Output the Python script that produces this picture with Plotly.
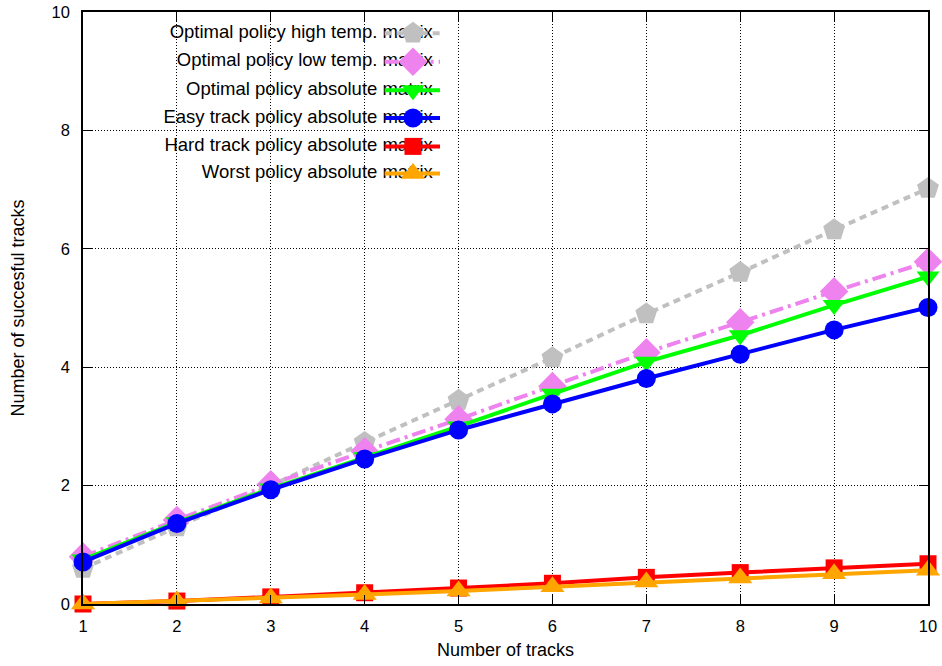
import plotly.graph_objects as go

# Number of tracks on the x axis
tracks = [1, 2, 3, 4, 5, 6, 7, 8, 9, 10]

# Mean number of successful tracks for each policy / matrix
optimal_high_temp = [0.60, 1.30, 2.00, 2.73, 3.44, 4.16, 4.90, 5.60, 6.32, 7.02]
optimal_low_temp = [0.80, 1.42, 2.02, 2.58, 3.12, 3.68, 4.25, 4.76, 5.28, 5.78]
optimal_absolute = [0.75, 1.38, 1.95, 2.48, 3.00, 3.55, 4.09, 4.54, 5.05, 5.53]
easy_track_absolute = [0.71, 1.36, 1.93, 2.45, 2.94, 3.38, 3.81, 4.22, 4.63, 5.01]
hard_track_absolute = [0.00, 0.05, 0.12, 0.19, 0.27, 0.35, 0.45, 0.53, 0.61, 0.68]
worst_absolute = [0.00, 0.05, 0.10, 0.16, 0.22, 0.29, 0.37, 0.44, 0.51, 0.57]

series_names = [
    "Optimal policy high temp. matrix",
    "Optimal policy low temp. matrix",
    "Optimal policy absolute matrix",
    "Easy track policy absolute matrix",
    "Hard track policy absolute matrix",
    "Worst policy absolute matrix",
]
series_values = [
    optimal_high_temp,
    optimal_low_temp,
    optimal_absolute,
    easy_track_absolute,
    hard_track_absolute,
    worst_absolute,
]

# Styles: colour, dash, marker symbol, marker size
styles = [
    ("#c0c0c0", "7px,5px", "pentagon", 23),
    ("#ee82ee", "14px,5px,3px,5px", "diamond", 22),
    ("#00ff00", "solid", "triangle-down", 20),
    ("#0000ff", "solid", "circle", 19),
    ("#ff0000", "solid", "square", 17),
    ("#ffa500", "solid", "triangle-up", 21),
]

FONT = "Liberation Sans, Arial, sans-serif"

fig = go.Figure()

for name, vals, (color, dash, symbol, size) in zip(series_names, series_values, styles):
    fig.add_trace(go.Scatter(
        x=tracks, y=vals, name=name, mode="lines+markers",
        line=dict(color=color, width=4, dash=dash),
        marker=dict(symbol=symbol, size=size, color=color, line=dict(width=0)),
        showlegend=False, cliponaxis=False,
    ))

# Key drawn on an overlay axis spanning the plot area in [0, 1] units
key_rows = [0.964, 0.916, 0.868, 0.821, 0.773, 0.727]
key_text_x = 0.414
key_line = [0.357, 0.4225]
key_mark = 0.3905

fig.add_trace(go.Scatter(
    x=[key_text_x] * len(series_names), y=key_rows, text=series_names,
    mode="text", textposition="middle left",
    textfont=dict(family=FONT, size=18.5, color="black"),
    xaxis="x2", yaxis="y2", showlegend=False, hoverinfo="skip", cliponaxis=False,
))
for row, (color, dash, symbol, size) in zip(key_rows, styles):
    fig.add_trace(go.Scatter(
        x=key_line, y=[row, row], mode="lines",
        line=dict(color=color, width=4, dash=dash),
        xaxis="x2", yaxis="y2", showlegend=False, hoverinfo="skip", cliponaxis=False,
    ))
    fig.add_trace(go.Scatter(
        x=[key_mark], y=[row], mode="markers",
        marker=dict(symbol=symbol, size=size, color=color, line=dict(width=0)),
        xaxis="x2", yaxis="y2", showlegend=False, hoverinfo="skip", cliponaxis=False,
    ))

axis_common = dict(
    automargin=False,
    showline=True, linecolor="black", linewidth=1.5, mirror="ticks",
    ticks="inside", ticklen=9, tickcolor="black", tickwidth=1,
    showgrid=True, gridcolor="black", gridwidth=1, griddash="1px,2px",
    zeroline=False, tickfont=dict(family=FONT, size=16.5, color="black"),
)

fig.update_layout(
    width=942, height=666,
    margin=dict(l=83, r=14, t=12, b=62),
    paper_bgcolor="white", plot_bgcolor="white",
    font=dict(family=FONT, size=18, color="black"),
    xaxis=dict(
        range=[1, 10], tickmode="array", tickvals=tracks,
        title=dict(text="Number of tracks", font=dict(family=FONT, size=18), standoff=10),
        ticklabelstandoff=6,
        **axis_common,
    ),
    yaxis=dict(
        range=[0, 10], tickmode="array", tickvals=[0, 2, 4, 6, 8, 10],
        title=dict(text="Number of succesful tracks", font=dict(family=FONT, size=18), standoff=22),
        ticklabelstandoff=8,
        **axis_common,
    ),
    xaxis2=dict(overlaying="x", range=[0, 1], visible=False, fixedrange=True),
    yaxis2=dict(overlaying="y", range=[0, 1], visible=False, fixedrange=True),
    shapes=[dict(
        type="rect", xref="paper", yref="paper", layer="between",
        x0=0.003, x1=0.434, y0=0.703, y1=0.998,
        fillcolor="white", line=dict(width=0),
    )],
)

fig.write_html("out.html")
